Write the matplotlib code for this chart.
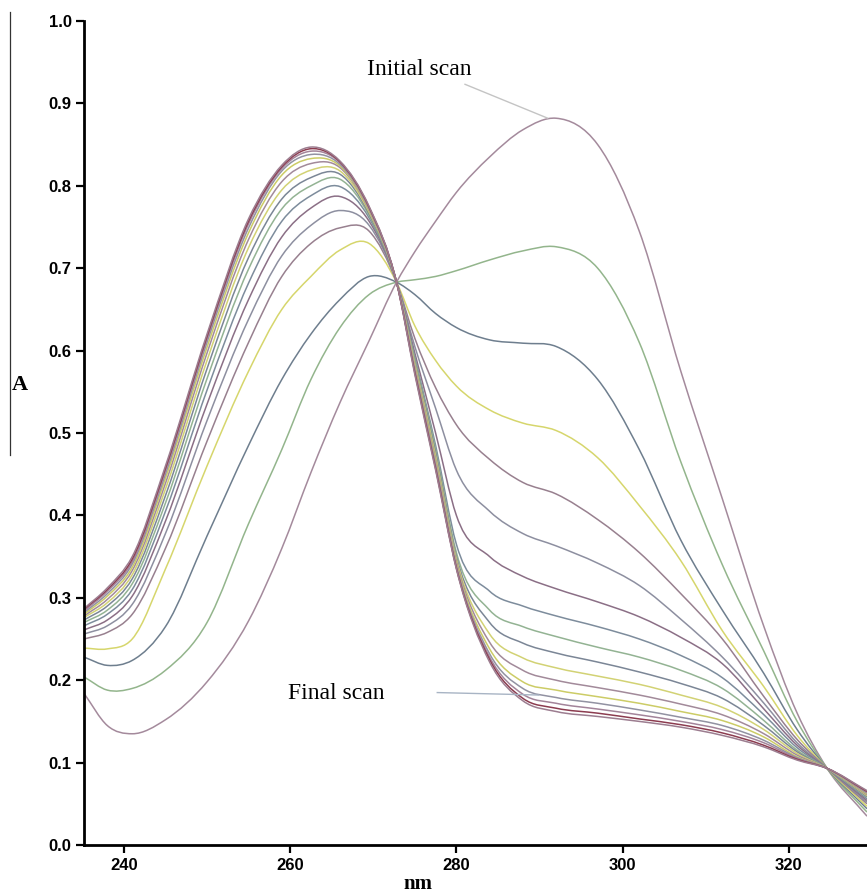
import numpy as np
import matplotlib
matplotlib.use('Agg')
import matplotlib.pyplot as plt
from matplotlib.path import Path
from matplotlib.patches import PathPatch
from matplotlib.lines import Line2D

plt.rcParams['font.family'] = ['Liberation Sans', 'DejaVu Sans']

WL = [235.2, 238, 241, 245, 250, 255, 259, 262.5, 266, 269.5, 272.8, 275, 277.5,
      280, 284, 288, 292, 297, 302, 307, 312, 317, 321, 324.6, 329.4]

# absorbance of each scan, initial scan first, final scan last
SCANS = [
    [0.184, 0.145, 0.135, 0.152, 0.198, 0.272, 0.36, 0.452, 0.537, 0.612, 0.683, 0.72, 0.757,
     0.792, 0.835, 0.868, 0.882, 0.85, 0.745, 0.575, 0.42, 0.265, 0.16, 0.093, 0.035],
    [0.204, 0.188, 0.19, 0.212, 0.27, 0.39, 0.48, 0.565, 0.628, 0.668, 0.683, 0.686, 0.69,
     0.697, 0.71, 0.721, 0.726, 0.70, 0.61, 0.465, 0.34, 0.235, 0.15, 0.093, 0.04],
    [0.228, 0.218, 0.224, 0.265, 0.375, 0.485, 0.565, 0.62, 0.662, 0.69, 0.683, 0.668, 0.645,
     0.628, 0.613, 0.609, 0.605, 0.565, 0.48, 0.37, 0.285, 0.208, 0.14, 0.093, 0.044],
    [0.239, 0.238, 0.25, 0.335, 0.46, 0.575, 0.65, 0.69, 0.722, 0.73, 0.683, 0.63, 0.588,
     0.557, 0.528, 0.512, 0.503, 0.47, 0.412, 0.345, 0.26, 0.192, 0.133, 0.093, 0.047],
    [0.25, 0.258, 0.28, 0.36, 0.49, 0.61, 0.69, 0.73, 0.749, 0.745, 0.683, 0.615, 0.555,
     0.51, 0.468, 0.44, 0.426, 0.395, 0.355, 0.305, 0.25, 0.18, 0.128, 0.093, 0.05],
    [0.256, 0.266, 0.292, 0.378, 0.515, 0.638, 0.715, 0.752, 0.77, 0.752, 0.683, 0.605, 0.53,
     0.455, 0.405, 0.378, 0.363, 0.342, 0.315, 0.274, 0.228, 0.172, 0.124, 0.093, 0.052],
    [0.261, 0.273, 0.302, 0.393, 0.535, 0.662, 0.738, 0.773, 0.787, 0.757, 0.683, 0.597, 0.50,
     0.40, 0.35, 0.326, 0.311, 0.295, 0.277, 0.252, 0.22, 0.165, 0.121, 0.093, 0.054],
    [0.266, 0.28, 0.31, 0.405, 0.552, 0.682, 0.757, 0.788, 0.799, 0.761, 0.683, 0.592, 0.485,
     0.365, 0.308, 0.29, 0.278, 0.265, 0.25, 0.23, 0.203, 0.158, 0.118, 0.093, 0.056],
    [0.27, 0.285, 0.317, 0.415, 0.566, 0.699, 0.772, 0.80, 0.808, 0.764, 0.683, 0.589, 0.48,
     0.355, 0.285, 0.265, 0.253, 0.24, 0.228, 0.212, 0.19, 0.151, 0.115, 0.093, 0.058],
    [0.273, 0.29, 0.323, 0.424, 0.578, 0.713, 0.784, 0.81, 0.814, 0.766, 0.683, 0.586, 0.476,
     0.35, 0.27, 0.245, 0.233, 0.222, 0.21, 0.196, 0.178, 0.145, 0.113, 0.093, 0.059],
    [0.276, 0.294, 0.328, 0.432, 0.588, 0.725, 0.795, 0.819, 0.818, 0.768, 0.683, 0.584, 0.472,
     0.347, 0.256, 0.227, 0.215, 0.205, 0.195, 0.182, 0.167, 0.14, 0.111, 0.093, 0.06],
    [0.278, 0.298, 0.333, 0.439, 0.597, 0.735, 0.805, 0.827, 0.822, 0.77, 0.683, 0.581, 0.468,
     0.344, 0.246, 0.212, 0.2, 0.191, 0.182, 0.171, 0.158, 0.135, 0.109, 0.093, 0.061],
    [0.28, 0.302, 0.337, 0.445, 0.604, 0.743, 0.813, 0.833, 0.824, 0.771, 0.683, 0.579, 0.465,
     0.341, 0.238, 0.198, 0.188, 0.18, 0.172, 0.162, 0.151, 0.131, 0.107, 0.093, 0.062],
    [0.282, 0.305, 0.341, 0.45, 0.61, 0.749, 0.818, 0.838, 0.826, 0.772, 0.683, 0.577, 0.462,
     0.339, 0.232, 0.19, 0.179, 0.172, 0.164, 0.155, 0.145, 0.127, 0.106, 0.093, 0.063],
    [0.284, 0.308, 0.344, 0.454, 0.614, 0.754, 0.821, 0.842, 0.828, 0.773, 0.683, 0.575, 0.459,
     0.337, 0.228, 0.183, 0.172, 0.165, 0.158, 0.15, 0.14, 0.124, 0.105, 0.093, 0.064],
    [0.286, 0.31, 0.347, 0.457, 0.617, 0.757, 0.823, 0.845, 0.829, 0.774, 0.683, 0.573, 0.457,
     0.336, 0.225, 0.178, 0.166, 0.16, 0.153, 0.146, 0.136, 0.121, 0.104, 0.093, 0.065],
    [0.287, 0.312, 0.35, 0.46, 0.62, 0.76, 0.825, 0.847, 0.83, 0.775, 0.683, 0.571, 0.455,
     0.335, 0.222, 0.175, 0.162, 0.156, 0.15, 0.143, 0.133, 0.119, 0.103, 0.093, 0.066],
]

COLORS = ['#a48a9c', '#93b58c', '#6e7e8e', '#d6d66c', '#98808f', '#8d8fa0', '#8b6f86',
          '#7d8c9c', '#93b393', '#7b8696', '#d2d274', '#a28a9a', '#cccc66', '#9292a2',
          '#a3849a', '#8c3c50', '#9c7d90']

Y_TICKS = [0.0, 0.1, 0.2, 0.3, 0.4, 0.5, 0.6, 0.7, 0.8, 0.9, 1.0]
X_TICKS = [240, 260, 280, 300, 320]


def smooth_path(x, y):
    """cubic through the read points (finite-difference tangents), as bezier segments"""
    x = np.asarray(x, float)
    y = np.asarray(y, float)
    h = np.diff(x)
    d = np.diff(y) / h
    m = np.empty_like(y)
    m[1:-1] = (d[:-1] * h[1:] + d[1:] * h[:-1]) / (h[:-1] + h[1:])
    m[0], m[-1] = d[0], d[-1]
    verts = [(x[0], y[0])]
    codes = [Path.MOVETO]
    for i in range(len(h)):
        verts += [(x[i] + h[i] / 3, y[i] + m[i] * h[i] / 3),
                  (x[i + 1] - h[i] / 3, y[i + 1] - m[i + 1] * h[i] / 3),
                  (x[i + 1], y[i + 1])]
        codes += [Path.CURVE4] * 3
    return Path(verts, codes)


fig = plt.figure(figsize=(8.67, 8.94), dpi=100)
ax = fig.add_axes([84 / 867, 49 / 894, 783 / 867, 824 / 894])

for scan, c in zip(SCANS, COLORS):
    ax.add_patch(PathPatch(smooth_path(WL, scan), facecolor='none', edgecolor=c, lw=1.1))

ax.set_xlim(235.2, 329.4)
ax.set_ylim(0, 1.0)
ax.set_xticks(X_TICKS)
ax.set_yticks(Y_TICKS)
ax.set_yticklabels([f'{v:.1f}' for v in Y_TICKS])
for lab in ax.get_xticklabels() + ax.get_yticklabels():
    lab.set_fontweight('bold')
    lab.set_fontsize(12)
ax.tick_params(direction='out', length=6, width=1.6, pad=3)
for s in ['top', 'right']:
    ax.spines[s].set_visible(False)
for s in ['left', 'bottom']:
    ax.spines[s].set_linewidth(2)

serif = ['Liberation Serif', 'DejaVu Serif']
ipk = int(np.argmax(SCANS[0]))
ax.annotate('Initial scan', xy=(WL[ipk] - 1, SCANS[0][ipk]), xytext=(269.2, 0.934),
            fontsize=17, family=serif, ha='left', va='baseline',
            arrowprops=dict(arrowstyle='-', color='#c4c4c4', lw=1, relpos=(0.85, 0),
                            shrinkA=2, shrinkB=0))
ax.annotate('Final scan', xy=(289.9, 0.182), xytext=(259.8, 0.177),
            fontsize=17, family=serif, ha='left', va='baseline')
ax.plot([277.7, 289.9], [0.185, 0.182], color='#a8b4c4', lw=1)

fig.text(20 / 867, 1 - 385 / 894, 'A', family=serif, fontsize=16, fontweight='bold',
         ha='center', va='center')
fig.text(418 / 867, 1 - 889 / 894, 'nm', family=serif, fontsize=15, fontweight='bold',
         ha='center', va='baseline')
fig.add_artist(Line2D([9.5 / 867, 9.5 / 867], [1 - 12 / 894, 1 - 455 / 894],
                      color='#333333', lw=0.9))

fig.savefig('out.png', dpi=100, facecolor='white')
